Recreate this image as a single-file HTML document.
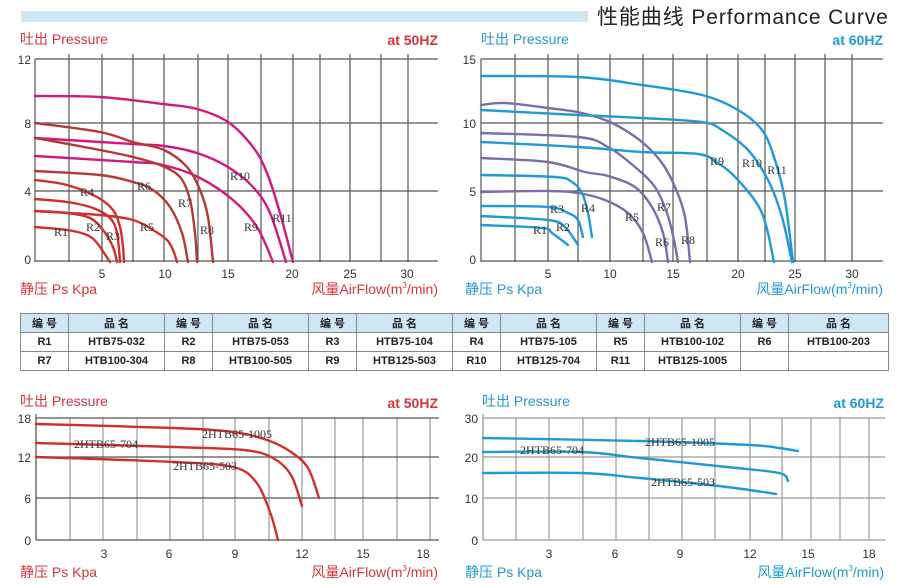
<!DOCTYPE html>
<html><head><meta charset="utf-8"><style>
html,body{margin:0;padding:0;background:#fff;}
svg{display:block;font-family:"Liberation Sans","Noto Sans CJK SC",sans-serif;}
.g{stroke:#555;stroke-width:1.2;fill:none}
.gl{stroke:#999;stroke-width:1.2;fill:none}
.c{fill:none;stroke-width:2.4;stroke-linejoin:round;stroke-linecap:round}
.t{font-size:12px;fill:#333}
.lb{font-family:"Liberation Serif",serif;font-size:12px;fill:#333}
.r{fill:#d8343a}.b{fill:#1f9ad6}
.tc td{border:1px solid #888;text-align:center;font-size:11px;font-weight:bold;color:#222;height:18px;padding:0}
</style></head><body>
<svg id="s" width="909" height="585" viewBox="0 0 909 585">
<rect x="21" y="11" width="567" height="11" fill="#cfe6f5"/>
<text x="597" y="24" font-size="21" letter-spacing="0.9" fill="#222">性能曲线 Performance Curve</text>

<!-- TOP LEFT -->
<g class="g">
<path d="M35,59V262M69,54V262M102,54V262M133,54V262M164,54V262M198,54V262M228,54V262M261,54V262M293,54V262M320,54V262M350,54V262M381,54V262M408,54V262"/>
<path d="M35,59H438M35,123H438M35,191H438M35,261H438"/>
</g>
<text x="20" y="44" font-size="14" class="r">吐出 Pressure</text>
<text x="438" y="45" font-size="14" font-weight="bold" class="r" text-anchor="end">at 50HZ</text>
<g class="t" text-anchor="end"><text x="31" y="64">12</text><text x="31" y="128">8</text><text x="31" y="196">4</text><text x="31" y="264">0</text></g>
<g class="t" text-anchor="middle"><text x="102" y="278">5</text><text x="165" y="278">10</text><text x="228" y="278">15</text><text x="292" y="278">20</text><text x="350" y="278">25</text><text x="407" y="278">30</text></g>
<text x="20" y="294" font-size="14" class="r">静压 Ps Kpa</text>
<text x="438" y="294" font-size="14" class="r" text-anchor="end">风量AirFlow(m<tspan font-size="8" dy="-6">3</tspan><tspan dy="6">/min)</tspan></text>

<g stroke="#d4177f" class="c">
<polyline points="35,96 100,97 163,104 197,109 228,122 253,147 267,173 280,213 293,262"/>
<polyline points="35,138 133,144 164,146 197,153 228,167 253,187 270,213 286,262"/>
<polyline points="35,156 133,162 163,165 198,177 233,200 257,227 273,262"/>
</g>
<g stroke="#b33a34" class="c">
<polyline points="35,123 100,132 133,142 164,150 187,167 200,190 208,217 213,262"/>
<polyline points="35,138 100,150 133,157 160,165 180,177 190,200 195,233 197,262"/>
<polyline points="35,171 100,175 133,182 153,190 170,207 182,233 188,262"/>
</g>
<g stroke="#d0302c" class="c">
<polyline points="35,211 100,215 133,220 153,230 167,240 173,250 177,262"/>
<polyline points="35,180 67,185 97,197 113,210 120,227 123,247 124,262"/>
<polyline points="35,199 67,202 93,208 110,218 117,233 120,262"/>
<polyline points="35,211 67,213 90,218 103,230 113,247 117,262"/>
<polyline points="35,227 67,230 87,235 97,243 110,262"/>
</g>
<g class="lb" text-anchor="middle">
<text x="61" y="236">R1</text><text x="93" y="231">R2</text><text x="113" y="240">R3</text><text x="87" y="196">R4</text><text x="147" y="231">R5</text><text x="144" y="190">R6</text><text x="185" y="207">R7</text><text x="207" y="234">R8</text><text x="251" y="231">R9</text><text x="240" y="180">R10</text><text x="282" y="222">R11</text>
</g>

<!-- TOP RIGHT -->
<g class="g">
<path d="M481,59V262M515,54V262M548,54V262M578,54V262M610,54V262M643,54V262M673,54V262M707,54V262M738,54V262M765,54V262M795,54V262M825,54V262M852,54V262"/>
<path d="M481,59H883M481,123H883M481,191H883M481,261H883"/>
</g>
<text x="481" y="44" font-size="14" class="b">吐出 Pressure</text>
<text x="883" y="45" font-size="14" font-weight="bold" class="b" text-anchor="end">at 60HZ</text>
<g class="t" text-anchor="end"><text x="476" y="64">15</text><text x="476" y="128">10</text><text x="476" y="196">5</text><text x="476" y="264">0</text></g>
<g class="t" text-anchor="middle"><text x="548" y="278">5</text><text x="610" y="278">10</text><text x="673" y="278">15</text><text x="738" y="278">20</text><text x="795" y="278">25</text><text x="852" y="278">30</text></g>
<text x="465" y="294" font-size="14" class="b">静压 Ps Kpa</text>
<text x="883" y="294" font-size="14" class="b" text-anchor="end">风量AirFlow(m<tspan font-size="8" dy="-6">3</tspan><tspan dy="6">/min)</tspan></text>

<g stroke="#7b6cab" class="c">
<polyline points="481,105 505,103 548,108 582,113 612,123 642,142 662,163 675,187 685,217 690,262"/>
<polyline points="481,133 578,137 608,147 635,167 655,187 667,213 674,240 678,262"/>
<polyline points="481,158 548,162 585,172 608,176 635,187 652,207 663,233 668,262"/>
<polyline points="481,192 548,191 578,193 605,200 628,213 643,233 652,262"/>
</g>
<g stroke="#1f9ad6" class="c">
<polyline points="481,76 578,77 642,85 702,95 738,110 762,130 775,160 785,200 793,262"/>
<polyline points="481,110 578,115 642,118 702,122 722,130 748,150 768,180 782,217 792,262"/>
<polyline points="481,142 578,147 642,152 698,154 718,163 738,180 762,213 774,262"/>
<polyline points="481,175 555,177 572,182 582,193 588,213 592,237"/>
<polyline points="481,206 548,207 568,213 578,220 583,237"/>
<polyline points="481,216 548,220 565,227 578,245"/>
<polyline points="481,225 542,228 552,233 568,245"/>
</g>
<g class="lb" text-anchor="middle">
<text x="540" y="234">R1</text><text x="563" y="231">R2</text><text x="557" y="213">R3</text><text x="588" y="212">R4</text><text x="632" y="221">R5</text><text x="662" y="246">R6</text><text x="664" y="211">R7</text><text x="688" y="244">R8</text><text x="717" y="165">R9</text><text x="752" y="167">R10</text><text x="777" y="174">R11</text>
</g>

<!-- TABLE -->
<foreignObject x="20" y="313" width="869" height="58">
<table xmlns="http://www.w3.org/1999/xhtml" class="tc" style="border-collapse:collapse;width:868px;table-layout:fixed;font-family:'Liberation Sans','Noto Sans CJK SC',sans-serif">
<colgroup><col style="width:48px"/><col style="width:96px"/><col style="width:48px"/><col style="width:96px"/><col style="width:48px"/><col style="width:96px"/><col style="width:48px"/><col style="width:96px"/><col style="width:48px"/><col style="width:96px"/><col style="width:48px"/><col style="width:100px"/></colgroup>
<tr style="background:#cfe6f5"><td>编 号</td><td>品 名</td><td>编 号</td><td>品 名</td><td>编 号</td><td>品 名</td><td>编 号</td><td>品 名</td><td>编 号</td><td>品 名</td><td>编 号</td><td>品 名</td></tr>
<tr><td>R1</td><td>HTB75-032</td><td>R2</td><td>HTB75-053</td><td>R3</td><td>HTB75-104</td><td>R4</td><td>HTB75-105</td><td>R5</td><td>HTB100-102</td><td>R6</td><td>HTB100-203</td></tr>
<tr><td>R7</td><td>HTB100-304</td><td>R8</td><td>HTB100-505</td><td>R9</td><td>HTB125-503</td><td>R10</td><td>HTB125-704</td><td>R11</td><td>HTB125-1005</td><td></td><td></td></tr>
</table>
</foreignObject>

<!-- BOTTOM LEFT -->
<g class="gl">
<path d="M36,418V540M70,418V540M103,418V540M137,418V540M170,418V540M203,418V540M235,418V540M269,418V540M302,418V540M335,418V540M363,418V540M397,418V540M430,418V540"/>
</g>
<g class="g"><path d="M36,418H439M36,457H439M36,498H439M36,540H439M36,414V540"/></g>
<text x="20" y="406" font-size="14" class="r">吐出 Pressure</text>
<text x="438" y="408" font-size="14" font-weight="bold" class="r" text-anchor="end">at 50HZ</text>
<g class="t" text-anchor="end"><text x="31" y="423">18</text><text x="31" y="462">12</text><text x="31" y="503">6</text><text x="31" y="545">0</text></g>
<g class="t" text-anchor="middle"><text x="104" y="558">3</text><text x="169" y="558">6</text><text x="235" y="558">9</text><text x="302" y="558">12</text><text x="363" y="558">15</text><text x="423" y="558">18</text></g>
<text x="20" y="577" font-size="14" class="r">静压 Ps Kpa</text>
<text x="438" y="577" font-size="14" class="r" text-anchor="end">风量AirFlow(m<tspan font-size="8" dy="-6">3</tspan><tspan dy="6">/min)</tspan></text>
<g stroke="#d0302c" class="c">
<polyline points="36,424 174,428 233,432 267,440 291,452 308,468 319,498"/>
<polyline points="36,443 174,447 244,450 273,458 291,475 302,506"/>
<polyline points="36,457 174,462 233,467 256,482 270,512 278,540"/>
</g>
<g class="lb" text-anchor="middle" font-size="11">
<text x="237" y="438">2HTB65-1005</text><text x="106" y="448">2HTB65-704</text><text x="205" y="470">2HTB65-503</text>
</g>

<!-- BOTTOM RIGHT -->
<g class="gl">
<path d="M483,418V540M516,418V540M549,418V540M583,418V540M616,418V540M649,418V540M682,418V540M715,418V540M750,418V540M782,418V540M811,418V540M840,418V540M869,418V540"/>
<path d="M483,418H885M483,457H885M483,498H885M483,540H885M483,414V540"/>
</g>
<text x="482" y="406" font-size="14" class="b">吐出 Pressure</text>
<text x="884" y="408" font-size="14" font-weight="bold" class="b" text-anchor="end">at 60HZ</text>
<g class="t" text-anchor="end"><text x="478" y="423">30</text><text x="478" y="462">20</text><text x="478" y="503">10</text><text x="478" y="545">0</text></g>
<g class="t" text-anchor="middle"><text x="549" y="558">3</text><text x="615" y="558">6</text><text x="680" y="558">9</text><text x="750" y="558">12</text><text x="808" y="558">15</text><text x="869" y="558">18</text></g>
<text x="465" y="577" font-size="14" class="b">静压 Ps Kpa</text>
<text x="884" y="577" font-size="14" class="b" text-anchor="end">风量AirFlow(m<tspan font-size="8" dy="-6">3</tspan><tspan dy="6">/min)</tspan></text>
<g stroke="#1f9ad6" class="c">
<polyline points="483,438 640,441 750,445 779,448 798,451"/>
<polyline points="483,452 581,452 640,458 727,467 779,473 788,481"/>
<polyline points="483,473 581,473 640,478 727,487 776,494"/>
</g>
<g class="lb" text-anchor="middle" font-size="11">
<text x="680" y="446">2HTB65-1005</text><text x="552" y="454">2HTB65-704</text><text x="683" y="486">2HTB65-503</text>
</g>
</svg>
<script>
(function(){
var ns="http://www.w3.org/2000/svg";
var pls=document.querySelectorAll("polyline");
for(var i=0;i<pls.length;i++){
 var pl=pls[i];var a=pl.getAttribute("points").trim().split(/\s+/).map(function(s){var q=s.split(",");return [+q[0],+q[1]];});
 var d="M"+a[0][0]+","+a[0][1];
 for(var k=0;k<a.length-1;k++){
  var p0=a[k-1]||a[k],p1=a[k],p2=a[k+1],p3=a[k+2]||p2;
  var c1=[p1[0]+(p2[0]-p0[0])/6,p1[1]+(p2[1]-p0[1])/6];
  var c2=[p2[0]-(p3[0]-p1[0])/6,p2[1]-(p3[1]-p1[1])/6];
  d+=" C"+c1[0].toFixed(1)+","+c1[1].toFixed(1)+" "+c2[0].toFixed(1)+","+c2[1].toFixed(1)+" "+p2[0]+","+p2[1];
 }
 var p=document.createElementNS(ns,"path");p.setAttribute("d",d);
 pl.parentNode.replaceChild(p,pl);
}
})();
</script>
</body></html>
